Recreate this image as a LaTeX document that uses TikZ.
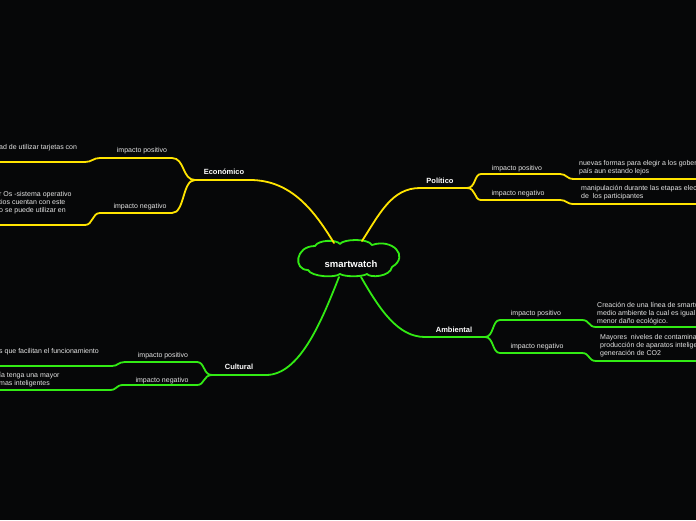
\documentclass[tikz,border=0pt]{standalone}
\usepackage{fontspec}
\setmainfont{Liberation Sans}
\definecolor{bg}{RGB}{6,7,8}
\definecolor{yel}{RGB}{255,228,0}
\definecolor{grn}{RGB}{50,235,20}
\definecolor{txt}{RGB}{228,228,228}
\begin{document}
\begin{tikzpicture}[x=1pt,y=-1pt,
 ybr/.style={draw=yel,line width=1.8pt,line cap=round},
 gbr/.style={draw=grn,line width=1.8pt,line cap=round},
 cloudline/.style={draw=grn,line width=1.8pt,line join=round},
 topic/.style={font=\bfseries\fontsize{7.5}{9}\selectfont,text=white,inner sep=0},
 sub/.style={font=\fontsize{7}{8}\selectfont,text=txt,inner sep=0},
 leaf/.style={font=\fontsize{7}{8}\selectfont,text=txt,inner sep=0,align=left,anchor=north west},
]
\fill[bg] (0,0) rectangle (696,520);
\useasboundingbox (0,0) rectangle (696,520);
\clip (0,0) rectangle (696,520);

% central cloud
\node[font=\bfseries\fontsize{9.5}{11}\selectfont, text=white, inner sep=0] (c) at (351,264) {smartwatch};
\draw[cloudline] (315,246) .. controls (318,240) and (336,239) .. (340,244)
  .. controls (343,239) and (368,238) .. (372,245)
  .. controls (392,238) and (410,256) .. (392,267)
  .. controls (390,277) and (370,278) .. (367,274)
  .. controls (362,277) and (345,277) .. (340,274)
  .. controls (335,278) and (312,277) .. (308,270)
  .. controls (293,270) and (295,246) .. (315,246) -- cycle;

% anchor points on cloud
\coordinate (cEco) at (334,243);
\coordinate (cPol) at (362,241);
\coordinate (cAmb) at (361,277);
\coordinate (cCul) at (339,277);

% ---------- Economico ----------
\coordinate (ecoR) at (250,180);
\coordinate (ecoL) at (195,180);
\node[topic] (eco) at (224,172) {Económico};
\draw[ybr] (cEco) .. controls (315,212) and (292,180) .. (ecoR) -- (ecoL);
\coordinate (epR) at (172,158); \coordinate (epL) at (100,158);
\coordinate (epM) at (85,162);  \coordinate (epE) at (-5,162);
\draw[ybr] (ecoL) .. controls (182,180) and (185,158) .. (epR) -- (epL) .. controls (93,158) and (92,162) .. (epM) -- (epE);
\coordinate (enR) at (172,213); \coordinate (enL) at (100,213);
\coordinate (enM) at (85,225);  \coordinate (enE) at (-5,225);
\draw[ybr] (ecoL) .. controls (182,180) and (185,213) .. (enR) -- (enL) .. controls (92,213) and (93,225) .. (enM) -- (enE);
\node[sub] (ecoP) at (142,151) {impacto positivo};
\node[sub] (ecoN) at (140,207) {impacto negativo};
\node[leaf] (ecoPt) at (-1,144) {ad de utilizar tarjetas con};
\node[leaf] (ecoNt) at (-1,191) {r Os -sistema operativo\\tios cuentan con este\\o se puede utilizar en};

% ---------- Politico ----------
\coordinate (polL) at (420,188);
\coordinate (polR) at (467,188);
\node[topic] (pol) at (440,181) {Político};
\draw[ybr] (cPol) .. controls (380,213) and (392,188) .. (polL) -- (polR);
\coordinate (ppL) at (481,174); \coordinate (ppR) at (560,174);
\coordinate (ppM) at (574,179); \coordinate (ppE) at (700,179);
\draw[ybr] (polR) .. controls (476,188) and (474,174) .. (ppL) -- (ppR) .. controls (567,174) and (566,179) .. (ppM) -- (ppE);
\coordinate (pnL) at (481,200); \coordinate (pnR) at (560,200);
\coordinate (pnM) at (574,204); \coordinate (pnE) at (700,204);
\draw[ybr] (polR) .. controls (476,188) and (474,200) .. (pnL) -- (pnR) .. controls (567,200) and (566,204) .. (pnM) -- (pnE);
\node[sub] (polP) at (517,169) {impacto positivo};
\node[sub] (polN) at (518,194) {impacto negativo};
\node[leaf] (polPt) at (579,160) {nuevas formas para elegir a los gober\\país aun estando lejos};
\node[leaf] (polNt) at (581,185) {manipulación durante las etapas elec\\de\ \ los participantes};

% ---------- Ambiental ----------
\coordinate (ambL) at (425,337);
\coordinate (ambR) at (485,337);
\node[topic] (amb) at (454,330) {Ambiental};
\draw[gbr] (cAmb) .. controls (380,310) and (398,337) .. (ambL) -- (ambR);
\coordinate (apL) at (500,320); \coordinate (apR) at (582,320);
\coordinate (apM) at (596,327); \coordinate (apE) at (700,327);
\draw[gbr] (ambR) .. controls (494,337) and (492,320) .. (apL) -- (apR) .. controls (590,320) and (588,327) .. (apM) -- (apE);
\coordinate (anL) at (500,353); \coordinate (anR) at (582,353);
\coordinate (anM) at (596,361); \coordinate (anE) at (700,361);
\draw[gbr] (ambR) .. controls (494,337) and (492,353) .. (anL) -- (anR) .. controls (590,353) and (588,361) .. (anM) -- (anE);
\node[sub] (ambP) at (536,314) {impacto positivo};
\node[sub] (ambN) at (537,347) {impacto negativo};
\node[leaf] (ambPt) at (597,302) {Creación de una línea de smartw\\medio ambiente la cual es igual\\menor daño ecológico.};
\node[leaf] (ambNt) at (600,334) {Mayores\ \ niveles de contamina\\producción de aparatos intelige\\generación de CO2};

% ---------- Cultural ----------
\coordinate (culR) at (266,375);
\coordinate (culL) at (212,375);
\node[topic] (cul) at (239,367) {Cultural};
\draw[gbr] (cCul) .. controls (322,320) and (300,375) .. (culR) -- (culL);
\coordinate (cpR) at (197,362); \coordinate (cpL) at (125,362);
\coordinate (cpM) at (112,366); \coordinate (cpE) at (-5,366);
\draw[gbr] (culL) .. controls (203,375) and (205,362) .. (cpR) -- (cpL) .. controls (118,362) and (118,366) .. (cpM) -- (cpE);
\coordinate (cnR) at (197,385); \coordinate (cnL) at (123,385);
\coordinate (cnM) at (110,390); \coordinate (cnE) at (-5,390);
\draw[gbr] (culL) .. controls (203,375) and (205,385) .. (cnR) -- (cnL) .. controls (116,385) and (117,390) .. (cnM) -- (cnE);
\node[sub] (culP) at (163,356) {impacto positivo};
\node[sub] (culN) at (162,381) {impacto negativo};
\node[leaf] (culPt) at (-1,348) {s que facilitan el funcionamiento};
\node[leaf] (culNt) at (-1,372) {ía tenga una mayor\\mas inteligentes};
\end{tikzpicture}
\end{document}
